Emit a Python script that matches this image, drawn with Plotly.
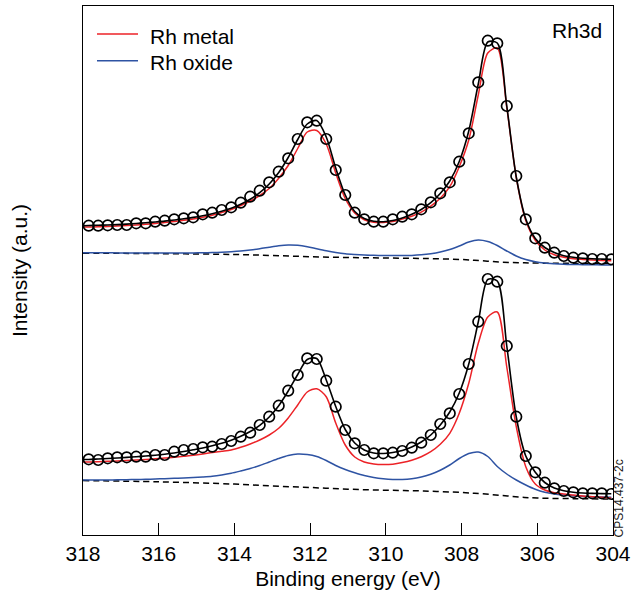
import plotly.graph_objects as go

# ---------------- data ----------------
# scan energies of the measured points (regular 0.251 eV step)
E_START = 317.85
E_STEP = 0.251
energy = [round(E_START - E_STEP * i, 3) for i in range(56)]
# smooth fit components start at the left edge of the axis
curve_energy = [318.0] + energy

# coarse grid for the Shirley-type background (dashed)
bg_energy = [318, 316, 314, 313, 312, 311, 310, 309, 308, 307.5, 307, 306.5, 306, 305, 304]

# ---- upper spectrum ----
data_top = [
    309.3, 309.3, 309.7, 310.0, 310.0, 311.7, 311.7, 313.3, 314.3, 315.7,
    316.7, 317.7, 320.7, 322.3, 325.0, 327.7, 332.3, 338.3, 344.3, 352.7,
    363.3, 376.7, 396.0, 412.7, 414.3, 396.0, 365.0, 340.0, 322.3, 315.7,
    313.3, 313.3, 315.7, 318.3, 320.7, 325.7, 332.7, 341.7, 352.7, 373.3,
    401.7, 452.7, 494.3, 491.7, 429.0, 359.0, 315.7, 296.7, 287.3, 282.3,
    279.0, 277.3, 276.7, 276.0, 276.0, 275.7]
fit_top = [
    309.3,
    309.5, 309.7, 310.0, 310.4, 310.9, 311.5, 312.2, 313.0, 313.9, 315.0,
    316.2, 317.6, 319.3, 321.3, 323.8, 326.8, 330.7, 335.7, 342.3, 351.0,
    362.5, 377.5, 395.5, 411.0, 414.5, 398.0, 367.0, 340.0, 323.5, 316.5,
    313.7, 313.3, 314.5, 317.0, 320.7, 325.5, 332.3, 341.5, 354.0, 373.5,
    404.0, 451.0, 493.0, 492.0, 429.0, 358.0, 316.0, 296.5, 287.5, 282.5,
    279.3, 277.7, 276.8, 276.2, 275.9, 275.7]
metal_top = [
    308.0,
    308.0, 308.2, 308.5, 308.9, 309.4, 310.0, 310.7, 311.5, 312.4, 313.5,
    314.7, 316.1, 317.8, 319.8, 322.5, 325.5, 329.5, 334.0, 339.5, 346.5,
    356.8, 369.5, 386.5, 403.0, 404.5, 391.0, 362.0, 336.5, 322.0, 315.3,
    312.8, 312.6, 313.5, 315.9, 318.8, 322.8, 328.8, 336.7, 348.3, 368.3,
    395.0, 440.0, 482.0, 487.0, 427.5, 357.5, 314.5, 294.8, 285.0, 280.2,
    277.7, 276.3, 275.6, 275.0, 274.6, 274.3]
oxide_top = [
    282.3,
    282.3, 282.2, 282.2, 282.1, 282.1, 282.0, 282.0, 282.0, 282.0, 282.0,
    282.0, 282.1, 282.2, 282.4, 282.8, 283.3, 284.0, 285.0, 286.3, 287.8,
    289.2, 290.0, 289.7, 288.3, 286.2, 284.2, 282.5, 281.2, 280.5, 280.0,
    279.7, 279.5, 279.4, 279.4, 279.6, 280.2, 281.3, 283.0, 285.5, 289.0,
    293.0, 295.0, 293.5, 289.5, 284.0, 279.0, 275.5, 273.3, 272.0, 271.3,
    270.8, 270.5, 270.3, 270.2, 270.1, 270.0]
bg_top = [281.8, 281.4, 280.5, 279.5, 278.3, 277.5, 277.0, 276.5, 275.5, 274.3,
          273.0, 272.3, 271.9, 271.6, 271.5]

# ---- lower spectrum ----
data_bot = [
    75.7, 75.0, 76.7, 77.7, 77.7, 78.3, 78.3, 80.0, 80.0, 83.3,
    85.0, 86.0, 87.7, 88.3, 91.0, 94.0, 98.3, 102.3, 110.0, 118.3,
    129.3, 144.3, 160.0, 176.7, 176.0, 154.3, 128.3, 105.0, 91.7, 85.0,
    81.7, 81.7, 82.3, 84.0, 87.3, 92.3, 100.0, 111.0, 121.7, 141.0,
    171.0, 213.3, 256.0, 253.3, 189.0, 118.3, 79.0, 62.7, 52.3, 46.7,
    44.0, 42.7, 41.7, 41.7, 41.7, 41.0]
fit_bot = [
    75.5,
    75.5, 76.0, 76.5, 77.0, 77.6, 78.3, 79.0, 79.8, 80.8, 82.0,
    83.5, 85.2, 87.0, 89.2, 91.7, 94.8, 98.7, 103.5, 109.7, 118.0,
    129.3, 144.0, 160.5, 175.5, 176.5, 155.0, 128.5, 105.5, 92.0, 85.0,
    82.0, 81.5, 82.5, 84.5, 88.0, 93.0, 100.0, 110.0, 123.0, 142.0,
    171.0, 213.0, 255.5, 254.0, 189.0, 118.0, 79.0, 62.7, 52.5, 47.0,
    44.3, 42.8, 42.0, 41.6, 41.4, 41.2]
metal_bot = [
    73.0,
    73.0, 73.3, 73.7, 74.0, 74.5, 75.0, 75.5, 76.2, 77.0, 77.7,
    78.7, 79.7, 81.0, 82.5, 83.7, 85.0, 87.7, 91.0, 95.0, 100.0,
    106.7, 117.0, 130.0, 143.0, 146.3, 138.3, 112.0, 90.0, 78.0, 73.0,
    71.0, 70.4, 70.8, 72.4, 74.8, 78.3, 83.3, 90.7, 101.7, 121.7,
    151.7, 191.7, 218.0, 223.0, 168.0, 108.3, 68.3, 51.0, 45.0, 42.3,
    41.0, 40.0, 39.0, 38.3, 37.7, 37.0]
oxide_bot = [
    55.0,
    55.0, 55.0, 55.0, 55.2, 55.3, 55.5, 55.7, 56.0, 56.3, 56.7,
    57.0, 57.5, 58.0, 58.7, 60.0, 61.7, 64.0, 66.5, 69.5, 73.0,
    76.5, 79.5, 81.0, 80.5, 78.5, 74.5, 69.5, 65.5, 62.3, 59.5,
    57.5, 56.2, 55.5, 55.5, 56.3, 58.0, 60.8, 64.8, 70.0, 76.5,
    81.5, 83.0, 78.5, 68.5, 61.0, 55.0, 50.0, 45.7, 42.7, 41.0,
    40.0, 39.3, 38.7, 38.3, 38.0, 37.7]
bg_bot = [54.4, 53.2, 50.9, 49.0, 47.5, 45.8, 44.8, 44.0, 42.5, 41.3,
          39.8, 38.0, 37.0, 36.3, 36.0]

x_ticks = [318, 316, 314, 312, 310, 308, 306, 304]
legend_names = ["Rh metal", "Rh oxide"]

# ---------------- styles ----------------
RED = "#EC2227"
BLUE = "#2E53A3"
FONT = "Liberation Sans, Arial, Helvetica, sans-serif"
FS = 21

fig = go.Figure()

for bg, ox, me, fi, da in [
    (bg_top, oxide_top, metal_top, fit_top, data_top),
    (bg_bot, oxide_bot, metal_bot, fit_bot, data_bot),
]:
    fig.add_trace(go.Scatter(x=bg_energy, y=bg, mode="lines", name="Background",
                             line=dict(color="black", width=1.5, dash="6px,4px", shape="spline"),
                             showlegend=False, hoverinfo="skip"))
    fig.add_trace(go.Scatter(x=curve_energy, y=ox, mode="lines", name=legend_names[1],
                             line=dict(color=BLUE, width=1.5, shape="spline", smoothing=0.8),
                             showlegend=False))
    fig.add_trace(go.Scatter(x=curve_energy, y=me, mode="lines", name=legend_names[0],
                             line=dict(color=RED, width=1.5, shape="spline", smoothing=0.8),
                             showlegend=False))
    fig.add_trace(go.Scatter(x=curve_energy, y=fi, mode="lines", name="Fit",
                             line=dict(color="black", width=1.6, shape="spline", smoothing=0.8),
                             showlegend=False))
    fig.add_trace(go.Scatter(x=energy, y=da, mode="markers", name="Data",
                             marker=dict(symbol="circle-open", size=10.5, color="black",
                                         line=dict(width=1.7, color="black")),
                             showlegend=False))

# legend drawn as short line samples + text labels (paper coordinates)
legend_y_line = [0.9471, 0.8966]
legend_y_text = [0.9430, 0.8930]
shapes = []
annotations = []
for name, col, yl, yt in zip(legend_names, [RED, BLUE], legend_y_line, legend_y_text):
    shapes.append(dict(type="line", xref="paper", yref="paper", x0=0.0264, x1=0.1038,
                       y0=yl, y1=yl, line=dict(color=col, width=1.5)))
    annotations.append(dict(text=name, xref="paper", yref="paper", x=0.1226, y=yt,
                            xanchor="left", yanchor="middle", showarrow=False,
                            font=dict(size=FS)))

annotations += [
    dict(text="Rh3d", xref="paper", yref="paper", x=0.983, y=0.953,
         xanchor="right", yanchor="middle", showarrow=False, font=dict(size=FS)),
    dict(text="CPS14.437-2c", xref="paper", yref="paper", x=1.013, y=0.069,
         xanchor="center", yanchor="middle", showarrow=False, textangle=-90,
         font=dict(size=12, color="#222")),
]

fig.update_layout(
    width=640, height=592,
    margin=dict(l=83, r=27, t=6, b=57),
    paper_bgcolor="white", plot_bgcolor="white",
    font=dict(family=FONT, size=FS, color="black"),
    showlegend=False,
    xaxis=dict(range=[318, 304], tickvals=x_ticks, ticktext=[str(v) for v in x_ticks],
               ticks="inside", ticklen=12, tickwidth=1.3, tickcolor="black",
               showline=True, linecolor="black", linewidth=1.3, mirror=True,
               showgrid=False, zeroline=False,
               tickfont=dict(size=FS),
               title=dict(text="Binding energy (eV)", font=dict(size=FS), standoff=6)),
    yaxis=dict(range=[0, 529], showticklabels=False, ticks="",
               showline=True, linecolor="black", linewidth=1.3, mirror=True,
               showgrid=False, zeroline=False,
               title=dict(text="Intensity (a.u.)", font=dict(size=FS), standoff=48)),
    shapes=shapes,
    annotations=annotations,
)

fig.write_html("out.html",
               config={"displayModeBar": False},
               post_script="document.body.style.margin='0px';document.body.style.overflow='hidden';")
